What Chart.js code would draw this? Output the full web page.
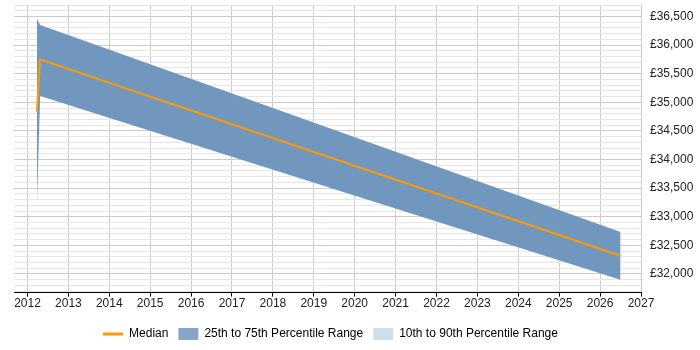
<!DOCTYPE html>
<html>
<head>
<meta charset="utf-8">
<script src="https://cdn.jsdelivr.net/npm/chart.js@4"></script>
<style>
  html, body { margin: 0; padding: 0; background: #fff; }
  #wrap { width: 700px; height: 350px; }
</style>
</head>
<body>
<div id="wrap"><canvas id="myChart"></canvas></div>
<script>
// values
var years = [2012.23, 2012.31, 2026.5];
var median = [34840, 35750, 32320];
var pct25 = [33200, 35110, 31900];
var pct75 = [36460, 36350, 32735];
var pct10 = [];
var pct90 = [];

function pts(vals) {
    return vals.map(function (v, i) { return { x: years[i], y: v }; });
}

// centre the legend under the plot area rather than the whole canvas
var legendShift = {
    id: 'legendShift',
    afterLayout: function (chart) {
        var l = chart.legend;
        if (!l) return;
        l.left = chart.chartArea.left + 3;
        l.right = chart.chartArea.right + 3;
        l.width = l.right - l.left;
    }
};

window.onload = function () {
    Chart.defaults.font.family = '"Liberation Sans", Arial, sans-serif';
    Chart.defaults.font.size = 12;
    Chart.defaults.color = '#222';

    const ctx = document.getElementById('myChart');
    const myChart = new Chart(ctx, {
        type: 'line',
        plugins: [legendShift],
        data: {
            datasets: [{
                label: 'Median',
                data: pts(median),
                borderColor: '#ff9900',
                borderWidth: 2,
                pointRadius: 0,
                fill: false,
                order: 0
            }, {
                label: '25th',
                data: pts(pct25),
                borderWidth: 0,
                borderColor: 'rgba(0,0,0,0)',
                pointRadius: 0,
                fill: false,
                order: 1
            }, {
                label: '75th',
                data: pts(pct75),
                borderWidth: 0,
                borderColor: 'rgba(0,0,0,0)',
                backgroundColor: 'rgb(113,151,191)',
                pointRadius: 0,
                fill: 1,
                order: 1
            }, {
                label: '10th',
                data: pct10,
                pointRadius: 0,
                fill: false
            }, {
                label: '90th',
                data: pct90,
                pointRadius: 0,
                fill: false
            }]
        },
        options: {
            responsive: true,
            maintainAspectRatio: false,
            animation: false,
            layout: { padding: { left: 14, right: 0, top: 5, bottom: 0 } },
            scales: {
                x: {
                    type: 'linear',
                    min: 2011.67,
                    max: 2027,
                    border: { color: '#000', width: 1 },
                    grid: { color: '#cccccc', tickColor: '#000', tickLength: 4 },
                    ticks: {
                        stepSize: 1,
                        includeBounds: false,
                        autoSkip: false,
                        maxRotation: 0,
                        padding: 0,
                        callback: function (v) { return String(v); }
                    },
                    afterFit: function (scale) { scale.height += 7; }
                },
                y: {
                    position: 'right',
                    min: 31675,
                    max: 36700,
                    border: { display: false },
                    grid: {
                        drawTicks: false,
                        color: function (c) {
                            return c.tick && c.tick.value % 500 === 0 ? '#cccccc' : '#e6e6e6';
                        }
                    },
                    ticks: {
                        stepSize: 100,
                        includeBounds: false,
                        autoSkip: false,
                        padding: 9,
                        callback: function (v) {
                            return v % 500 === 0 ? '£' + v.toLocaleString('en-GB') : '';
                        }
                    },
                    afterFit: function (scale) {
                        scale.width = 59;
                        scale.paddingTop = 0;
                        scale.paddingBottom = 0;
                    }
                }
            },
            plugins: {
                tooltip: { enabled: false },
                legend: {
                    display: true,
                    position: 'bottom',
                    onClick: null,
                    labels: {
                        usePointStyle: true,
                        pointStyleWidth: 20,
                        boxHeight: 12,
                        padding: 10,
                        color: '#222',
                        generateLabels: function () {
                            return [{
                                text: 'Median', pointStyle: 'line', strokeStyle: '#ff9900',
                                fillStyle: '#ff9900', lineWidth: 3, hidden: false
                            }, {
                                text: '25th to 75th Percentile Range', pointStyle: 'rect',
                                fillStyle: '#87a5c6', strokeStyle: '#87a5c6', lineWidth: 0, hidden: false
                            }, {
                                text: '10th to 90th Percentile Range', pointStyle: 'rect',
                                fillStyle: '#cfdeef', strokeStyle: '#cfdeef', lineWidth: 0, hidden: false
                            }];
                        }
                    }
                }
            }
        }
    });
};
</script>
</body>
</html>
